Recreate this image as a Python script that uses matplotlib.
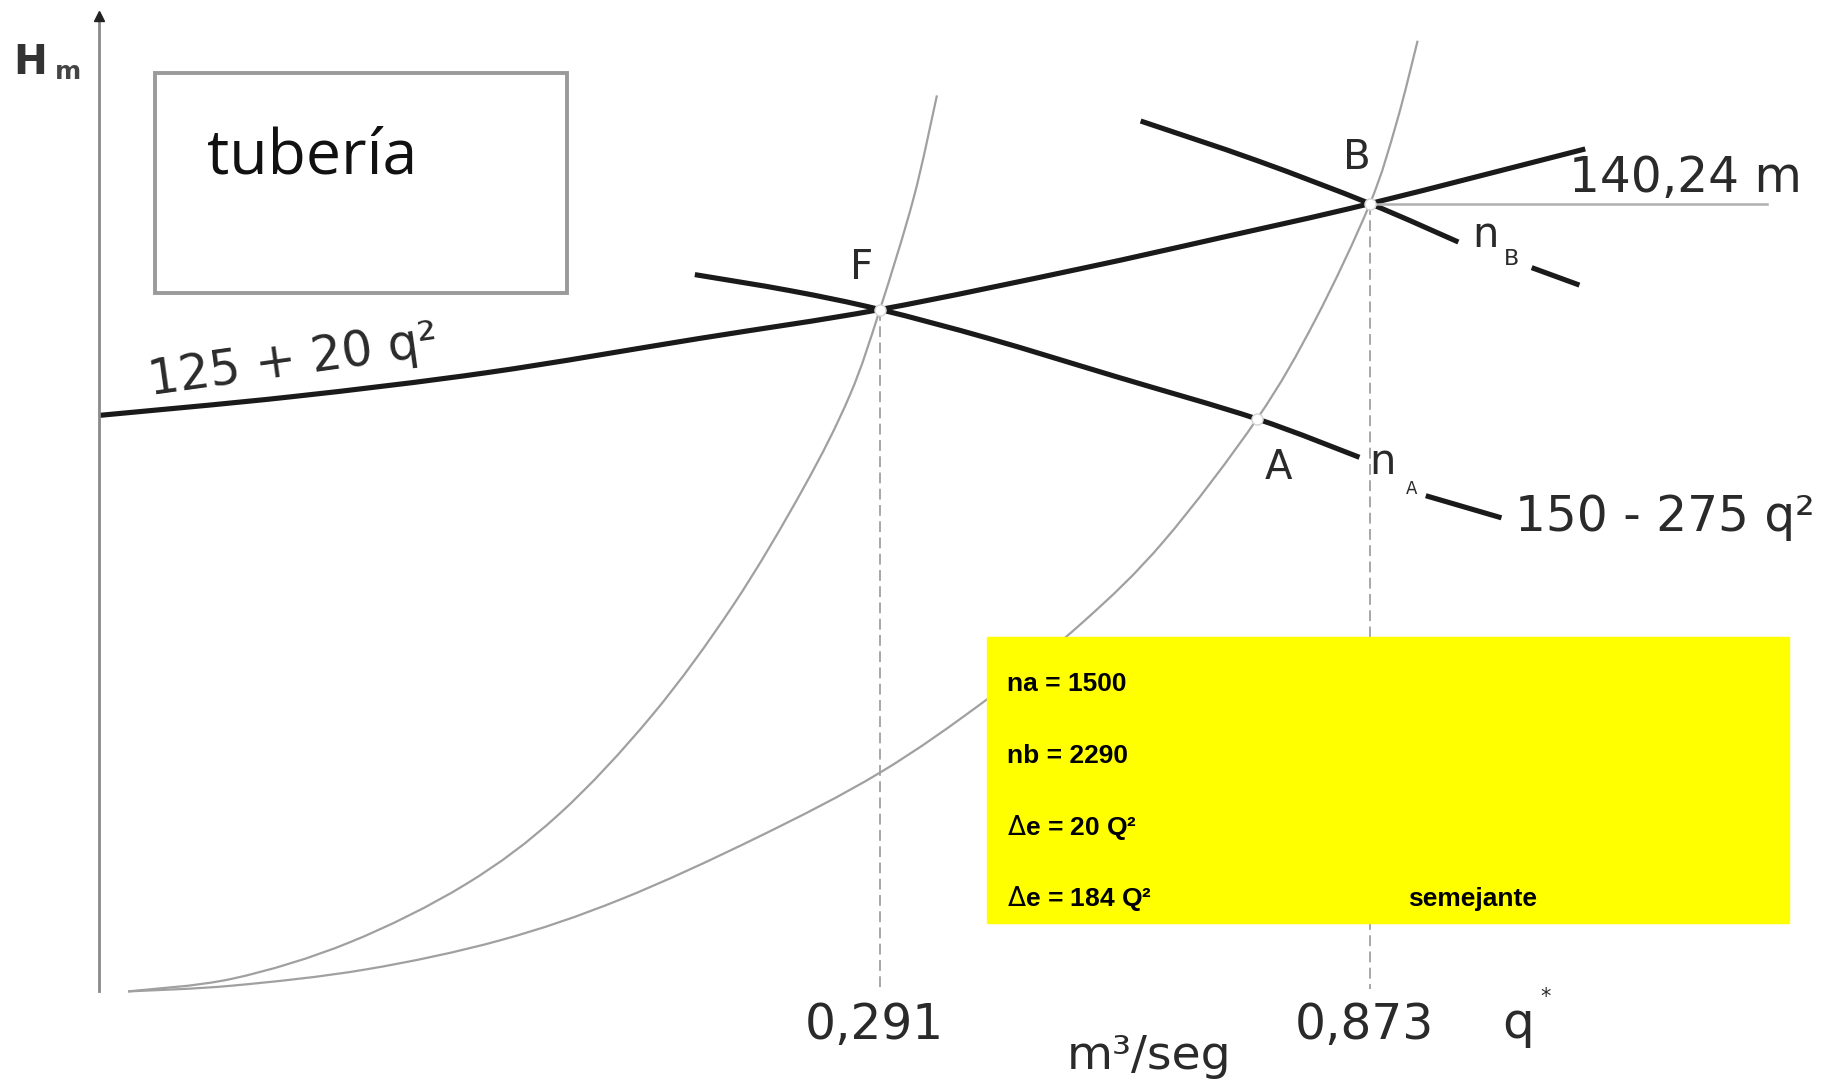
import matplotlib.pyplot as plt
from matplotlib.patches import Rectangle, PathPatch
from matplotlib.path import Path

# ---------- datos leídos del esquema (unidades de dibujo, y hacia abajo) ----------
# curva de la tubería 125 + 20 q^2
tub_x = [85, 250, 420, 600, 756, 928, 1050, 1177, 1362]
tub_y = [357, 341, 320, 291, 266, 231, 204, 175, 128]

# curva de la bomba a nA (150 - 275 q^2), cortada por la etiqueta
na_x1 = [597, 680, 756, 850, 960, 1080, 1168]
na_y1 = [236, 250, 266, 291, 324, 360, 393]
na_x2 = [1225, 1290]
na_y2 = [426, 445]

# curva de la bomba a nB
nb_x1 = [980, 1080, 1177, 1253]
nb_y1 = [104, 138, 175, 208]
nb_x2 = [1316, 1357]
nb_y2 = [230, 245]

# parábolas de semejanza
par1_x = [110, 200, 300, 400, 480, 560, 630, 690, 730, 756, 785, 805]
par1_y = [852, 841, 810, 760, 700, 615, 520, 420, 340, 266, 170, 82]
par2_x = [110, 200, 315, 430, 533, 650, 756, 848, 930, 1000, 1080, 1130, 1177, 1200, 1218]
par2_y = [852, 847, 833, 808, 773, 720, 664, 601, 535, 465, 360, 275, 175, 105, 35]

# puntos de funcionamiento
pts_nombre = ['F', 'A', 'B']
pts_x = [756, 1080, 1177]
pts_y = [266, 360, 175]

q_ticks = ['0,291', '0,873']
q_pos = [756, 1177]
h_B = 175
texto_caja = ['na = 1500', 'nb = 2290', '$\\Delta$e = 20 Q²', '$\\Delta$e = 184 Q²']


def suave(xs, ys):
    # trazo Catmull-Rom (Bezier cúbica) que pasa por los puntos leídos
    p = list(zip(xs, ys))
    if len(p) < 3:
        return Path(p, [Path.MOVETO] + [Path.LINETO] * (len(p) - 1))
    verts, codes = [p[0]], [Path.MOVETO]
    for i in range(len(p) - 1):
        p0 = p[i - 1] if i > 0 else p[i]
        p1, p2 = p[i], p[i + 1]
        p3 = p[i + 2] if i + 2 < len(p) else p[i + 1]
        c1 = (p1[0] + (p2[0] - p0[0]) / 6, p1[1] + (p2[1] - p0[1]) / 6)
        c2 = (p2[0] - (p3[0] - p1[0]) / 6, p2[1] - (p3[1] - p1[1]) / 6)
        verts += [c1, c2, p2]
        codes += [Path.CURVE4] * 3
    return Path(verts, codes)


# ---------- figura ----------
fig = plt.figure(figsize=(18.25, 10.88), dpi=100)
ax = fig.add_axes([0, 0, 1, 1])
ax.set_xlim(0, 1568)
ax.set_ylim(935, 0)
ax.axis('off')

gris = '#a0a0a0'
tinta = '#1a1a1a'
fam = ['DejaVu Sans']

# eje vertical con flecha
ax.plot([85, 85], [852, 14], color='#8a8a8a', lw=2)
ax.plot(85, 14, marker='^', color='#222', ms=7)
ax.text(11, 64, 'H', fontsize=29, color='#333', family=fam, weight='bold')
ax.text(47, 68, 'm', fontsize=18, color='#444', family=fam, weight='bold')

# parábolas y líneas auxiliares
for xs, ys in [(par1_x, par1_y), (par2_x, par2_y)]:
    ax.add_patch(PathPatch(suave(xs, ys), fill=False, ec=gris, lw=1.6))
for x, y in zip(q_pos, [pts_y[0], pts_y[2]]):
    ax.plot([x, x], [y, 850], color=gris, lw=1.3, ls=(0, (6, 3)))
ax.plot([pts_x[2], 1518], [h_B, h_B], color='#b0b0b0', lw=1.8)

# curvas gruesas
for xs, ys in [(tub_x, tub_y), (na_x1, na_y1), (na_x2, na_y2), (nb_x1, nb_y1), (nb_x2, nb_y2)]:
    ax.add_patch(PathPatch(suave(xs, ys), fill=False, ec=tinta, lw=3.7, capstyle='butt'))

ax.plot(pts_x, pts_y, 'o', ms=8, mfc='white', mec='#d5d5d5', mew=1, ls='none')

# recuadro "tubería"
ax.add_patch(Rectangle((133, 63), 354, 189, fill=False, ec='#9a9a9a', lw=2.8))
ax.text(178, 149, 'tubería', fontsize=45, family=['Open Sans', 'DejaVu Sans'], color='#111')

# etiquetas
kw = dict(color='#2a2a2a', family=fam, ha='center', va='center')
ax.text(740, 230, 'F', fontsize=29, **kw)
ax.text(1166, 136, 'B', fontsize=29, **kw)
ax.text(1098, 402, 'A', fontsize=29, **kw)
ax.text(1188, 397, 'n', fontsize=30, **kw)
ax.text(1213, 420, 'A', fontsize=12, **kw)
ax.text(1276, 202, 'n', fontsize=30, **kw)
ax.text(1299, 223, 'B', fontsize=16, **kw)
ax.text(1448, 153, '140,24 m', fontsize=35, **kw)
ax.text(1430, 444, '150 - 275 q²', fontsize=35, **kw)
ax.text(252, 310, '125 + 20 q²', fontsize=35, rotation=8, **kw)
for lab, x in zip(q_ticks, q_pos):
    ax.text(x - 5, 881, lab, fontsize=35, **kw)
ax.text(1304, 880, 'q', fontsize=36, **kw)
ax.text(1328, 857, '*', fontsize=15, **kw)
ax.text(987, 908, 'm³/seg', fontsize=34, **kw)

# recuadro amarillo con resultados
ax.add_patch(Rectangle((848, 547), 689, 246, color='#ffff00', zorder=5))
for i, t in enumerate(texto_caja):
    ax.text(865, 588 + i * 61.5, t, fontsize=19, weight='bold', va='center',
            family=['Liberation Sans', 'DejaVu Sans'], color='black', zorder=6)
ax.text(1210, 773, 'semejante', fontsize=19, weight='bold', va='center',
        family=['Liberation Sans', 'DejaVu Sans'], color='black', zorder=6)

fig.savefig('out.png', dpi=100, facecolor='white')
